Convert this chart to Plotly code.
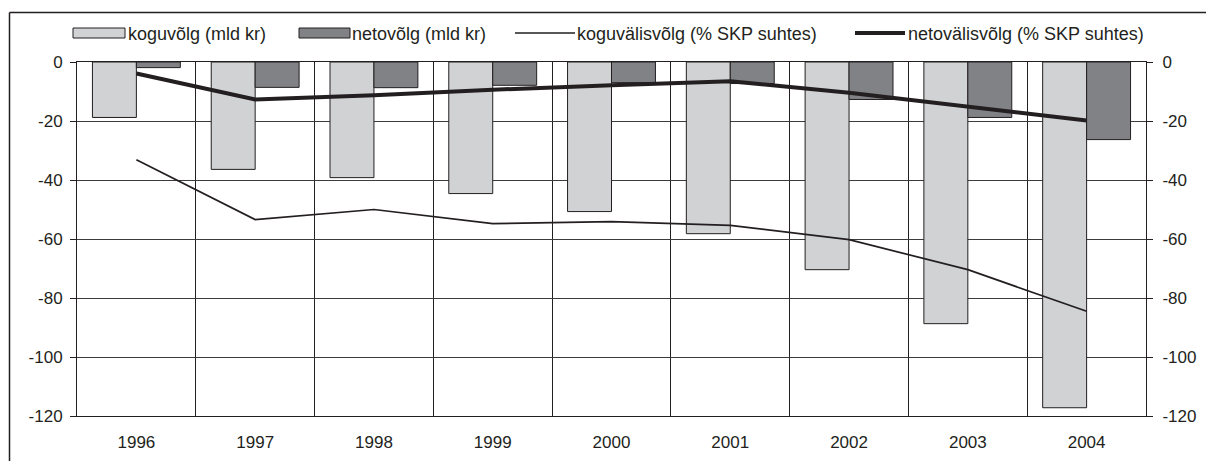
import plotly.graph_objects as go

# ---- data ----
years = ["1996", "1997", "1998", "1999", "2000", "2001", "2002", "2003", "2004"]
koguvolg = [-18.8, -36.4, -39.2, -44.6, -50.7, -58.2, -70.4, -88.7, -117.2]
netovolg = [-1.9, -8.6, -8.7, -7.9, -7.0, -7.3, -12.7, -18.8, -26.3]
koguvalisvolg_pct = [-33.1, -53.4, -50.0, -54.8, -54.1, -55.4, -60.2, -70.4, -84.5]
netovalisvolg_pct = [-3.9, -12.7, -11.3, -9.4, -7.9, -6.5, -10.4, -15.2, -19.8]
y_tickvals = [0, -20, -40, -60, -80, -100, -120]
y_ticktext = ["0", "-20", "-40", "-60", "-80", "-100", "-120"]
series_names = ["koguvõlg (mld kr)", "netovõlg (mld kr)",
                "koguvälisvõlg (% SKP suhtes)", "netovälisvõlg (% SKP suhtes)"]

# ---- style ----
W, H = 1206, 461
ML, MR, MT, MB = 77, 60, 62, 45
PW, PH = W - ML - MR, H - MT - MB
INK = "#231F20"
LIGHT = "#D1D2D4"
DARK = "#818285"
FONT = "Liberation Sans, Arial, sans-serif"
FS = 17
LEG_FS = 18


def px_x(px):
    return (px - ML) / PW


def px_y(py):
    return (H - MB - py) / PH


fig = go.Figure()
fig.add_trace(go.Bar(x=years, y=koguvolg, name=series_names[0], marker=dict(color=LIGHT, line=dict(color=INK, width=1)), yaxis="y"))
fig.add_trace(go.Bar(x=years, y=netovolg, name=series_names[1], marker=dict(color=DARK, line=dict(color=INK, width=1)), yaxis="y"))
fig.add_trace(go.Scatter(x=years, y=koguvalisvolg_pct, name=series_names[2], mode="lines", line=dict(color=INK, width=1.7), yaxis="y2"))
fig.add_trace(go.Scatter(x=years, y=netovalisvolg_pct, name=series_names[3], mode="lines", line=dict(color=INK, width=4), yaxis="y2"))

shapes = []
annotations = []
# custom legend
sw_y = 33
txt_y = 34
shapes.append(dict(type="rect", xref="paper", yref="paper", x0=px_x(73), x1=px_x(125), y0=px_y(sw_y + 5), y1=px_y(sw_y - 5),
                   fillcolor=LIGHT, line=dict(color=INK, width=1)))
shapes.append(dict(type="rect", xref="paper", yref="paper", x0=px_x(299), x1=px_x(350), y0=px_y(sw_y + 5), y1=px_y(sw_y - 5),
                   fillcolor=DARK, line=dict(color=INK, width=1)))
shapes.append(dict(type="line", xref="paper", yref="paper", x0=px_x(515), x1=px_x(575), y0=px_y(sw_y), y1=px_y(sw_y),
                   line=dict(color=INK, width=1.7)))
shapes.append(dict(type="line", xref="paper", yref="paper", x0=px_x(855), x1=px_x(905), y0=px_y(sw_y), y1=px_y(sw_y),
                   line=dict(color=INK, width=4)))
for xpx, name in zip([125.5, 350, 575, 906], series_names):
    annotations.append(dict(xref="paper", yref="paper", x=px_x(xpx), y=px_y(txt_y), text=name, showarrow=False,
                            xanchor="left", yanchor="middle", font=dict(family=FONT, size=LEG_FS, color=INK)))
# outer frame (top and left edges)
shapes.append(dict(type="line", xref="paper", yref="paper", x0=px_x(9.5), x1=px_x(W + 5), y0=px_y(12.5), y1=px_y(12.5),
                   line=dict(color=INK, width=1.5)))
shapes.append(dict(type="line", xref="paper", yref="paper", x0=px_x(9.5), x1=px_x(9.5), y0=px_y(12.5), y1=px_y(H + 5),
                   line=dict(color=INK, width=1.5)))

fig.update_layout(
    width=W, height=H,
    margin=dict(l=ML, r=MR, t=MT, b=MB, pad=0, autoexpand=False),
    paper_bgcolor="white", plot_bgcolor="white",
    showlegend=False,
    barmode="group", bargap=0.26, bargroupgap=0,
    font=dict(family=FONT, size=FS, color=INK),
    shapes=shapes, annotations=annotations,
    xaxis=dict(type="category", tickson="boundaries", showgrid=True, gridcolor=INK, gridwidth=1,
               ticks="", showline=True, linecolor=INK, linewidth=1, mirror=True, automargin=False,
               ticklabelstandoff=11, tickfont=dict(family=FONT, size=FS, color=INK)),
    yaxis=dict(range=[-120, 0], tickvals=y_tickvals, ticktext=y_ticktext, showgrid=True, gridcolor="#3c3c3c",
               gridwidth=1, zeroline=False, ticks="outside", ticklen=6, tickcolor=INK, showline=True,
               linecolor=INK, linewidth=1, mirror=True, ticklabelstandoff=4, automargin=False,
               tickfont=dict(family=FONT, size=FS, color=INK)),
    yaxis2=dict(range=[-120, 0], tickvals=y_tickvals, ticktext=y_ticktext, overlaying="y", side="right",
                showgrid=False, zeroline=False, ticks="outside", ticklen=6, tickcolor=INK, showline=True,
                linecolor=INK, linewidth=1, ticklabelstandoff=6, automargin=False,
                tickfont=dict(family=FONT, size=FS, color=INK)),
)

fig.write_html("out.html", config=dict(displayModeBar=False),
               post_script="document.body.style.margin='0';document.body.style.overflow='hidden';")
